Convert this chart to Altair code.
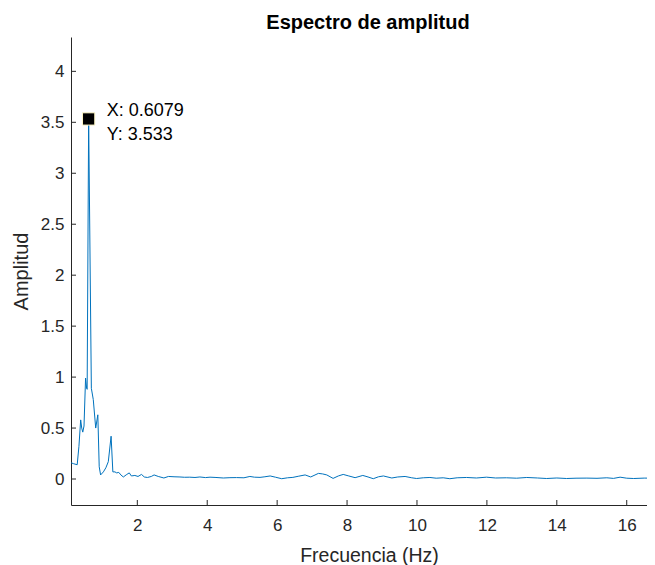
import altair as alt
import pandas as pd

freq = [0.10, 0.18, 0.28, 0.33, 0.38, 0.41, 0.44, 0.475, 0.52, 0.55, 0.565, 0.6079,
        0.685, 0.74, 0.81, 0.87, 0.91, 0.95, 1.03, 1.10, 1.17, 1.25, 1.30, 1.36, 1.41,
        1.47, 1.53, 1.60, 1.70, 1.77, 1.83, 1.93, 2.02, 2.12, 2.20, 2.29, 2.40, 2.48,
        2.60, 2.76, 2.89, 3.05, 3.22, 3.35, 3.50, 3.65, 3.79, 3.95, 4.08, 4.25, 4.46,
        4.65, 4.84, 5.05, 5.22, 5.35, 5.51, 5.65, 5.80, 5.95, 6.13, 6.30, 6.45, 6.62,
        6.80, 6.96, 7.18, 7.30, 7.42, 7.60, 7.75, 7.89, 8.05, 8.23, 8.45, 8.60, 8.75,
        8.90, 9.04, 9.28, 9.45, 9.66, 9.85, 9.99, 10.18, 10.37, 10.55, 10.75, 10.94,
        11.15, 11.42, 11.70, 11.99, 12.25, 12.56, 12.85, 13.14, 13.45, 13.71, 14.0,
        14.28, 14.55, 14.86, 15.15, 15.43, 15.62, 15.81, 16.0, 16.2, 16.5, 16.81]
amp = [0.16, 0.15, 0.14, 0.32, 0.58, 0.50, 0.46, 0.52, 0.99, 0.89, 0.88, 3.533,
       0.89, 0.78, 0.50, 0.63, 0.12, 0.04, 0.07, 0.11, 0.17, 0.42, 0.07, 0.07, 0.06,
       0.065, 0.04, 0.02, 0.045, 0.06, 0.03, 0.035, 0.025, 0.045, 0.02, 0.015, 0.025, 0.04,
       0.025, 0.01, 0.025, 0.022, 0.02, 0.017, 0.018, 0.015, 0.02, 0.014, 0.018, 0.015, 0.01,
       0.013, 0.014, 0.012, 0.025, 0.018, 0.016, 0.022, 0.03, 0.018, 0.003, 0.012, 0.016, 0.028,
       0.04, 0.02, 0.055, 0.05, 0.04, 0.006, 0.03, 0.045, 0.03, 0.013, 0.035, 0.02, 0.003,
       0.022, 0.03, 0.01, 0.02, 0.025, 0.012, 0.005, 0.012, 0.015, 0.008, 0.012, 0.003,
       0.012, 0.015, 0.01, 0.018, 0.01, 0.012, 0.008, 0.015, 0.01, 0.005, 0.01,
       0.005, 0.008, 0.009, 0.007, 0.012, 0.006, 0.018, 0.008, 0.005, 0.009, 0.008]

x_ticks = [2, 4, 6, 8, 10, 12, 14, 16]
y_ticks = [0, 0.5, 1, 1.5, 2, 2.5, 3, 3.5, 4]
tip_x = [0.6079]
tip_y = [3.533]
tip_labels = ["X: 0.6079", "Y: 3.533"]

W, H = 576, 468
XDOM = [0.103, 16.58]
YDOM = [-0.255, 4.337]
FONT = "Liberation Sans"
AXC = "#262626"

df = pd.DataFrame({"f": freq, "a": amp})
xs = alt.Scale(domain=XDOM, nice=False, zero=False)
ys = alt.Scale(domain=YDOM, nice=False, zero=False)

line = alt.Chart(df).mark_line(color="#0072BD", strokeWidth=1, clip=True).encode(
    x=alt.X("f:Q", scale=xs, title="Frecuencia (Hz)",
            axis=alt.Axis(values=x_ticks, ticks=False, grid=False, labelPadding=12,
                          format="~g",
                          labelFontSize=17, labelFont=FONT, labelColor=AXC,
                          domainColor=AXC, titleFontSize=19.5, titleFont=FONT,
                          titleColor=AXC, titleFontWeight="normal",
                          titleBaseline="alphabetic", titleAlign="center",
                          titleX=298, titleY=56)),
    y=alt.Y("a:Q", scale=ys, title="Amplitud",
            axis=alt.Axis(values=y_ticks, ticks=False, grid=False, labelPadding=7,
                          format=".1~f",
                          labelFontSize=17, labelFont=FONT, labelColor=AXC,
                          domainColor=AXC, titleFontSize=20, titleFont=FONT,
                          titleColor=AXC, titleFontWeight="normal",
                          titleBaseline="alphabetic", titleX=-44)),
)

xt = alt.Chart(pd.DataFrame({"f": x_ticks})).mark_rule(color=AXC, strokeWidth=1).encode(
    x=alt.X("f:Q", scale=xs), y=alt.value(H), y2=alt.value(H - 5))
yt = alt.Chart(pd.DataFrame({"a": y_ticks})).mark_rule(color=AXC, strokeWidth=1).encode(
    y=alt.Y("a:Q", scale=ys), x=alt.value(0), x2=alt.value(5))

tipdf = pd.DataFrame({"f": tip_x, "a": tip_y})
marker = alt.Chart(tipdf).mark_square(size=150, color="black", opacity=1,
                                      stroke="#FFF8C8", strokeWidth=1, filled=True).encode(
    x=alt.X("f:Q", scale=xs), y=alt.Y("a:Q", scale=ys))
t1 = alt.Chart(tipdf).mark_text(text=tip_labels[0], align="left", baseline="middle",
                                dx=18, dy=-8, fontSize=18, font=FONT, color="black").encode(
    x=alt.X("f:Q", scale=xs), y=alt.Y("a:Q", scale=ys))
t2 = alt.Chart(tipdf).mark_text(text=tip_labels[1], align="left", baseline="middle",
                                dx=18, dy=16, fontSize=18, font=FONT, color="black").encode(
    x=alt.X("f:Q", scale=xs), y=alt.Y("a:Q", scale=ys))

chart = alt.layer(line, xt, yt, marker, t1, t2).properties(
    width=W, height=H,
    title=alt.TitleParams("Espectro de amplitud", fontSize=20, font=FONT,
                          fontWeight="bold", color="black", anchor="middle",
                          offset=4, dx=9),
    autosize=alt.AutoSizeParams(type="none"),
    padding={"left": 63, "top": 29, "right": 0, "bottom": 60},
    background="white",
).configure_view(stroke=None)

chart.save("out.html", embed_options={"renderer": "svg", "actions": False})
